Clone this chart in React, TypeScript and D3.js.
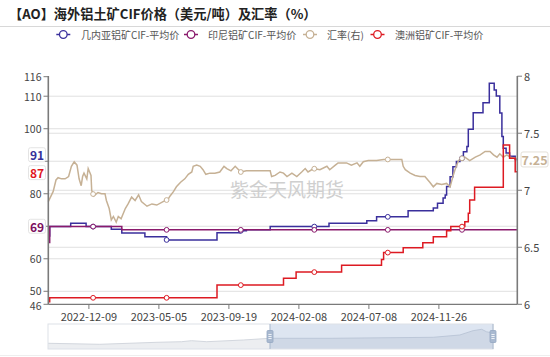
import React from 'react';
import * as d3 from 'd3';

const W = 550, H = 357;

const xTickPos = [58, 158, 258, 358, 458, 558];
const xTickLabels = ['2022-12-09', '2023-05-05', '2023-09-19', '2024-02-08', '2024-07-08', '2024-11-26'];
const leftLabels = [46, 50, 60, 80, 100, 110, 116];
const leftGrid = [50, 60, 70, 80, 90, 100, 110];
const rightLabels = [6, 6.5, 7, 7.5, 8];
const rightGrid = [6.5, 7, 7.5];
const markerPos = [64, 169, 275, 380, 485, 591];

const seriesNames = ['几内亚铝矿CIF-平均价', '印尼铝矿CIF-平均价', '汇率(右)', '澳洲铝矿CIF-平均价'];

const guinea: [number, number][] = [[0, 67], [2, 69.9], [32, 70.9], [54, 69.9], [90, 69.1], [105, 67.9], [138, 66.8], [169, 65.8], [241, 68.0], [274, 68.6], [283, 68.9], [317, 69.9], [401, 70.9], [455, 71.7], [469, 72.9], [514, 74.8], [550, 75.6], [556, 77.1], [564, 78.7], [567, 79.6], [569, 82.2], [574, 85.2], [578, 88.3], [583, 89.9], [588, 90.9], [593, 92.9], [598, 94.5], [600, 99.8], [607, 104.9], [621, 108], [630, 114], [637, 111.9], [640, 110.1], [645, 104.8], [648, 97.6], [650, 94], [654, 92.5], [659, 91.5], [667, 90.5], [670, 90.5]];
const indonesia: [number, number][] = [[0, 65], [2, 69.9], [105, 68.9], [670, 68.9]];
const australia: [number, number][] = [[0, 46.8], [2, 48.0], [241, 51.9], [336, 54.0], [354, 55.9], [419, 58.0], [476, 59.8], [479, 61.9], [507, 63.4], [535, 64.9], [550, 66.8], [569, 68.6], [575, 69.9], [595, 71.4], [600, 74], [602, 78.1], [609, 82], [650, 95], [659, 90.9], [667, 86.8], [670, 86.8]];
const fxRate: [number, number][] = [[0, 6.90], [7, 6.99], [11, 7.09], [14, 7.11], [19, 7.10], [24, 7.10], [29, 7.12], [33, 7.21], [37, 7.25], [41, 7.22], [44, 7.10], [47, 7.04], [49, 7.12], [51, 7.15], [55, 7.10], [57, 7.19], [61, 7.13], [62, 7.00], [65, 6.95], [71, 6.98], [76, 6.97], [81, 6.97], [83, 6.91], [87, 6.84], [90, 6.74], [93, 6.77], [97, 6.72], [100, 6.77], [104, 6.75], [110, 6.84], [114, 6.88], [119, 6.94], [124, 6.91], [129, 6.96], [133, 6.90], [141, 6.86], [148, 6.88], [155, 6.87], [164, 6.90], [171, 6.92], [174, 6.95], [179, 6.99], [183, 7.03], [189, 7.07], [195, 7.10], [200, 7.14], [205, 7.16], [207, 7.21], [212, 7.22], [217, 7.21], [221, 7.18], [225, 7.14], [231, 7.15], [238, 7.15], [245, 7.16], [251, 7.21], [255, 7.19], [261, 7.17], [267, 7.21], [275, 7.16], [283, 7.17], [317, 7.17], [319, 7.12], [324, 7.13], [331, 7.16], [336, 7.15], [341, 7.12], [348, 7.15], [355, 7.12], [362, 7.16], [367, 7.19], [371, 7.16], [379, 7.19], [388, 7.18], [398, 7.21], [402, 7.18], [410, 7.22], [414, 7.24], [426, 7.24], [433, 7.22], [441, 7.24], [445, 7.21], [450, 7.25], [457, 7.26], [469, 7.26], [479, 7.27], [486, 7.27], [505, 7.27], [507, 7.21], [510, 7.18], [517, 7.15], [524, 7.13], [531, 7.12], [538, 7.12], [545, 7.07], [550, 7.03], [555, 7.06], [562, 7.05], [569, 7.06], [574, 7.03], [578, 7.12], [581, 7.18], [586, 7.26], [591, 7.28], [595, 7.29], [602, 7.26], [610, 7.29], [617, 7.31], [624, 7.34], [631, 7.34], [636, 7.31], [641, 7.29], [645, 7.32], [650, 7.29], [655, 7.31], [660, 7.29], [667, 7.28], [670, 7.27]];
const sliderShadow: [number, number][] = [[0, 65.2], [78, 61.8], [164, 68.5], [201, 70.5], [216, 73.9], [239, 70.5], [294, 76.2], [334, 82], [429, 82], [580, 85.3], [620, 93], [640, 107.5], [653, 112.2], [660, 104.1], [670, 98.8]];

const endLabels = [
  { text: '91', value: 92, color: '#35309a' },
  { text: '87', value: 86.5, color: '#e0151d' },
  { text: '69', value: 70, color: '#7d1060' },
];
const fxLabel = '7.25';

const C_BLUE = '#3a2f9c';
const C_PURPLE = '#8a1a6c';
const C_TAN = '#c6b195';
const C_RED = '#dd1a22';
const FONT = "'Noto Sans CJK SC', 'Noto Sans', sans-serif";

const stepVal = (data: [number, number][], u: number) => {
  let v = data[0][1];
  for (const d of data) if (d[0] <= u) v = d[1];
  return v;
};
const linVal = (data: [number, number][], u: number) => {
  for (let i = 1; i < data.length; i++) {
    if (data[i][0] >= u) {
      const [u0, v0] = data[i - 1];
      const [u1, v1] = data[i];
      return v0 + ((v1 - v0) * (u - u0)) / (u1 - u0 || 1);
    }
  }
  return data[data.length - 1][1];
};

export default function App() {
  const x = d3.scaleLinear().domain([0, 670]).range([48.3, 517.3]);
  const yL = d3.scaleLinear().domain([46, 116]).range([304.3, 76.7]);
  const yR = d3.scaleLinear().domain([6, 8]).range([304.3, 76.2]);
  const stepL = d3.line<[number, number]>().x(d => x(d[0])).y(d => yL(d[1])).curve(d3.curveStepAfter);
  const lineR = d3.line<[number, number]>().x(d => x(d[0])).y(d => yR(d[1]));

  const sx = d3.scaleLinear().domain([0, 670]).range([48, 493]);
  const sy = d3.scaleLinear().domain([46, 130]).range([349, 324]);
  const sArea = d3.area<[number, number]>().x(d => sx(d[0])).y0(349).y1(d => sy(d[1]));
  const sLine = d3.line<[number, number]>().x(d => sx(d[0])).y(d => sy(d[1]));

  const stepSeries = [
    { data: guinea, color: C_BLUE },
    { data: indonesia, color: C_PURPLE },
  ];

  const legendColors = [C_BLUE, C_PURPLE, C_TAN, C_RED];
  const legendIcon = [63.3, 191, 310, 377.5];
  const legendText = [81, 208, 327, 395];

  const selX0 = 270, selX1 = 493;

  const marker = (cx: number, cy: number, color: string, key: string) => (
    <circle key={key} cx={cx} cy={cy} r={2.4} fill="#fff" stroke={color} strokeWidth={1} />
  );

  return (
    <svg width={W} height={H} style={{ position: 'absolute', left: 0, top: 0, fontFamily: FONT }}>
      <rect x={0} y={0} width={W} height={H} fill="#fff" />
      {/* Title */}
      <text x={9} y={19} fontSize={13.2} fontWeight="bold" fill="#222">【AO】海外铝土矿CIF价格（美元/吨）及汇率（%）</text>
      <line x1={0} x2={W} y1={26.5} y2={26.5} stroke="#d8d8d8" strokeWidth={1} />

      {/* Legend */}
      {seriesNames.map((n, i) => (
        <g key={n}>
          <line x1={legendIcon[i] - 7} x2={legendIcon[i] + 7} y1={34.5} y2={34.5} stroke={legendColors[i]} strokeWidth={1.5} />
          <circle cx={legendIcon[i]} cy={34.5} r={3.8} fill="#fff" stroke={legendColors[i]} strokeWidth={1.3} />
          <text x={legendText[i]} y={34.5} dominantBaseline="central" fontSize={10} fill="#555">{n}</text>
        </g>
      ))}

      {/* Grid */}
      {leftGrid.map(v => (
        <line key={'gl' + v} x1={48.3} x2={517.3} y1={yL(v)} y2={yL(v)} stroke="#e0e0e0" strokeWidth={1} />
      ))}
      {rightGrid.map(v => (
        <line key={'gr' + v} x1={48.3} x2={517.3} y1={yR(v)} y2={yR(v)} stroke="#e0e0e0" strokeWidth={1} />
      ))}

      {/* Watermark */}
      <text x={287} y={188} textAnchor="middle" dominantBaseline="central" fontSize={19} fill="#cfcfcf">紫金天风期货</text>

      {/* Series */}
      {stepSeries.map((s, i) => (
        <path key={'s' + i} d={stepL(s.data) || ''} fill="none" stroke={s.color} strokeWidth={1.5} />
      ))}
      <path d={lineR(fxRate) || ''} fill="none" stroke={C_TAN} strokeWidth={1.5} />
      <path d={stepL(australia) || ''} fill="none" stroke={C_RED} strokeWidth={1.5} />

      {/* Markers */}
      {markerPos.map(u => marker(x(u), yL(stepVal(guinea, u)), C_BLUE, 'mb' + u))}
      {markerPos.map(u => marker(x(u), yL(stepVal(indonesia, u)), C_PURPLE, 'mp' + u))}
      {markerPos.map(u => marker(x(u), yR(linVal(fxRate, u)), C_TAN, 'mt' + u))}
      {markerPos.map(u => marker(x(u), yL(stepVal(australia, u)), C_RED, 'mr' + u))}

      {/* Axes */}
      <line x1={48.3} x2={48.3} y1={76} y2={304.3} stroke="#7a7a7a" strokeWidth={1.6} />
      <line x1={517.3} x2={517.3} y1={76} y2={304.3} stroke="#7a7a7a" strokeWidth={1.6} />
      <line x1={48.3} x2={517.3} y1={304.3} y2={304.3} stroke="#7a7a7a" strokeWidth={1.2} />
      {leftLabels.concat([70, 90]).map(v => (
        <line key={'lt' + v} x1={43.5} x2={48.3} y1={yL(v)} y2={yL(v)} stroke="#7a7a7a" strokeWidth={1} />
      ))}
      {leftLabels.map(v => (
        <text key={'ll' + v} x={41.5} y={yL(v) + (v === 46 ? 1 : v === 50 ? -1 : 0)} textAnchor="end" dominantBaseline="central" fontSize={10.5} fill="#444">{v}</text>
      ))}
      {rightLabels.map(v => (
        <g key={'rl' + v}>
          <line x1={517.3} x2={522} y1={yR(v)} y2={yR(v)} stroke="#7a7a7a" strokeWidth={1} />
          <text x={524} y={yR(v)} dominantBaseline="central" fontSize={11} fill="#444">{v}</text>
        </g>
      ))}
      {xTickPos.map((u, i) => (
        <g key={'xt' + u}>
          <line x1={x(u)} x2={x(u)} y1={304.3} y2={309} stroke="#7a7a7a" strokeWidth={1} />
          <text x={x(u)} y={316} textAnchor="middle" dominantBaseline="central" fontSize={11} fill="#444">{xTickLabels[i]}</text>
        </g>
      ))}

      {/* End labels on left axis */}
      {endLabels.map(l => (
        <g key={'el' + l.text}>
          <rect x={28.5} y={yL(l.value) - 7} width={17} height={14} fill="#fff" stroke="#e4e4e4" strokeWidth={1} rx={2} />
          <text x={37} y={yL(l.value)} textAnchor="middle" dominantBaseline="central" fontSize={12} fontWeight="bold" fill={l.color}>{l.text}</text>
        </g>
      ))}
      <g>
        <rect x={521} y={yR(linVal(fxRate, 670)) - 7.5} width={27} height={15} fill="#fff" stroke="#e4e0d8" strokeWidth={1} rx={2} />
        <text x={534.5} y={yR(linVal(fxRate, 670))} textAnchor="middle" dominantBaseline="central" fontSize={12.5} fontWeight="bold" fill={C_TAN}>{fxLabel}</text>
      </g>

      {/* Data zoom slider */}
      <path d={sArea(sliderShadow) || ''} fill="#eceef1" />
      <path d={sLine(sliderShadow) || ''} fill="none" stroke="#d3d7de" strokeWidth={1} />
      <rect x={selX0} y={324} width={selX1 - selX0} height={25} fill="rgba(120,150,200,0.25)" />
      <rect x={48} y={324} width={445} height={25} fill="none" stroke="#dde1e8" strokeWidth={1} />
      <line x1={selX0} x2={selX0} y1={324} y2={349} stroke="#a7b7cc" strokeWidth={1} />
      <line x1={selX1} x2={selX1} y1={324} y2={349} stroke="#a7b7cc" strokeWidth={1} />
      {[selX0, selX1].map(hx => (
        <g key={'h' + hx}>
          <rect x={hx - 3} y={330.5} width={6} height={12} rx={1} fill="#a9b9d0" stroke="#94a7c2" strokeWidth={0.8} />
          <line x1={hx - 1.6} x2={hx + 1.6} y1={334.5} y2={334.5} stroke="#fff" strokeWidth={0.8} />
          <line x1={hx - 1.6} x2={hx + 1.6} y1={336.5} y2={336.5} stroke="#fff" strokeWidth={0.8} />
          <line x1={hx - 1.6} x2={hx + 1.6} y1={338.5} y2={338.5} stroke="#fff" strokeWidth={0.8} />
        </g>
      ))}
      <line x1={0} x2={W} y1={355.5} y2={355.5} stroke="#eeeeee" strokeWidth={1} />
    </svg>
  );
}
